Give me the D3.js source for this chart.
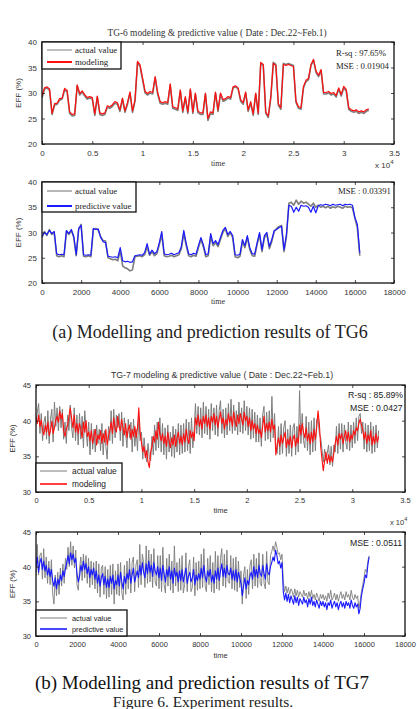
<!DOCTYPE html>
<html><head><meta charset="utf-8">
<script src="https://cdn.jsdelivr.net/npm/d3@7"></script>
<style>
html,body{margin:0;padding:0;background:#fff;}
svg{display:block;}
</style></head>
<body>
<svg id="c" width="417" height="709"></svg>
<script>
// ---------- DATA ----------
// TG6 modelling (time step 250, 0..32500)
const tg6ModelTime = d3.range(0, 32501, 250);
const tg6ModelActual = [29.0,30.8,31.0,30.5,25.8,27.6,27.8,28.6,28.8,30.6,30.2,26.0,25.5,25.6,31.4,29.6,30.2,29.4,28.8,29.0,28.8,25.6,29.2,25.8,25.6,25.8,27.2,27.0,27.4,28.0,27.8,26.4,28.8,26.2,27.8,30.0,26.2,28.4,36.0,35.2,32.6,30.0,29.6,30.0,29.8,33.0,29.8,28.0,27.8,28.0,27.8,31.6,27.0,26.8,26.6,30.4,26.2,29.0,26.0,30.6,26.0,29.8,26.2,25.8,25.8,29.8,24.6,26.0,25.8,30.0,26.4,29.8,28.4,28.6,29.0,28.8,31.0,31.2,30.8,28.4,27.8,30.0,26.4,28.0,25.6,29.8,25.8,35.8,35.4,26.0,25.2,29.0,36.0,35.6,27.6,26.8,35.8,35.6,35.8,35.6,35.4,28.2,27.0,26.8,31.0,32.2,32.6,35.4,36.4,34.0,33.2,34.4,29.8,29.8,30.0,29.6,29.8,29.2,30.8,29.4,31.0,30.4,26.8,26.4,26.2,26.4,26.0,26.2,26.0,26.4,26.6];
const tg6Modeling = [29.4,31.0,31.2,30.8,26.0,27.9,28.0,28.9,29.0,30.9,30.5,26.3,25.8,25.9,31.6,29.9,30.4,29.7,29.1,29.3,29.1,25.9,29.4,26.1,25.9,26.1,27.5,27.3,27.7,28.3,28.1,26.7,29.0,26.5,28.1,30.2,26.5,28.7,36.2,35.5,32.9,30.3,29.9,30.3,30.1,33.2,30.1,28.3,28.1,28.3,28.1,31.8,27.3,27.1,26.9,30.6,26.5,29.3,26.3,30.8,26.3,30.0,26.5,26.1,26.1,30.0,25.0,26.3,26.1,30.2,26.7,30.0,28.7,28.9,29.3,29.1,31.2,31.4,31.0,28.7,28.1,30.2,26.7,28.3,25.9,30.0,26.1,36.0,35.6,26.3,25.5,29.3,35.8,35.4,27.9,27.1,35.6,35.4,35.6,35.4,35.2,28.5,27.3,27.1,31.3,32.5,32.9,35.6,36.6,34.3,33.5,34.6,30.1,30.1,30.3,29.9,30.1,29.5,31.0,29.7,31.3,30.7,27.1,26.7,26.5,26.7,26.3,26.5,26.3,26.7,26.9];

// TG6 prediction (time step 125, 0..16250)
const tg6PredTime = d3.range(0, 16251, 125);
const tg6PredActual = [29.0,30.2,29.4,30.6,29.6,30.0,25.4,25.2,25.4,25.2,30.2,29.6,30.4,29.0,25.4,30.6,31.6,25.3,25.2,25.4,25.2,30.6,30.8,30.5,29.2,28.4,28.3,25.0,24.8,24.6,24.7,24.4,26.4,23.4,23.0,22.8,22.4,22.6,25.2,25.3,25.4,25.2,25.6,27.2,25.5,26.2,25.4,25.8,27.6,29.6,25.4,25.2,25.3,25.5,25.2,25.4,25.6,26.8,29.8,27.4,25.4,25.2,25.5,25.3,27.0,28.6,27.2,25.2,25.4,29.2,27.4,28.0,27.2,28.6,30.0,30.8,29.2,30.0,29.0,25.2,25.0,25.3,28.2,27.0,29.0,26.6,25.4,25.3,27.6,29.6,26.2,29.0,29.6,26.8,28.2,30.2,30.8,31.2,31.4,26.2,29.2,35.8,36.0,35.4,36.4,35.6,36.2,35.8,36.0,35.6,35.2,35.8,35.0,35.4,35.0,35.2,34.9,35.2,34.8,35.1,34.9,35.2,35.0,34.8,35.2,35.0,35.1,34.9,32.8,31.0,25.4];
const tg6Predictive = [29.2,30.0,29.6,30.4,29.8,30.2,25.8,25.6,25.7,25.6,30.4,29.8,30.6,29.2,25.6,30.8,31.4,25.6,25.5,25.6,25.5,30.8,30.6,30.7,29.0,28.2,28.0,25.3,25.2,25.1,25.2,25.0,27.0,24.4,24.2,24.3,24.1,24.2,25.4,25.5,25.6,25.5,26.0,27.8,25.7,26.5,25.8,26.2,28.0,30.2,25.8,25.6,25.7,25.9,25.6,25.8,26.0,27.2,30.4,27.8,25.8,25.6,25.9,25.7,27.4,29.0,27.6,25.6,25.8,29.8,27.8,28.4,27.6,29.0,30.4,31.0,29.6,30.2,29.4,25.6,25.5,25.7,28.6,27.4,29.4,27.0,25.8,25.7,28.0,30.0,26.6,29.4,30.0,27.2,28.6,30.4,30.6,31.0,31.2,26.6,29.6,35.4,35.2,34.0,35.0,34.2,35.4,35.2,35.3,35.0,34.0,35.2,33.9,35.3,35.5,35.4,35.6,35.5,35.3,35.6,35.4,35.5,35.6,35.3,35.6,35.5,35.6,35.4,33.0,31.6,26.0];

// TG7 modelling (time step 125, 0..32500)
const tg7ModelTime = d3.range(0, 32501, 125);
const tg7ModelActual = [
39.4,41.2,42.4,38.2,41.0,37.2,39.8,40.6, 37.4,41.4,36.8,40.2,41.6,37.0,42.6,39.2,
41.8,38.6,42.0,39.0,41.6,37.4,39.8,36.8, 40.8,38.6,42.2,39.0,37.6,41.8,37.2,40.8,
36.6,41.0,37.4,40.6,36.2,41.4,38.6,36.4, 39.8,35.2,39.6,36.0,38.8,35.6,39.4,36.8,
38.8,35.8,39.6,35.2,38.6,36.4,34.6,39.2, 37.2,41.4,36.8,41.6,37.6,40.8,39.0,41.0,
37.2,41.2,36.4,40.4,38.2,36.2,40.2,37.6, 39.8,35.6,40.2,36.4,38.8,35.8,40.6,37.2,
38.4,34.6,37.6,35.6,34.2,36.8,34.8,34.4, 37.8,35.2,39.4,35.8,39.8,36.2,40.4,35.6,
39.6,35.2,39.0,34.6,39.4,35.6,38.4,35.0, 39.2,34.8,38.8,35.6,39.6,35.2,39.4,35.4,
39.6,35.6,40.2,35.8,39.8,35.4,40.4,36.2, 38.6,42.4,38.2,42.0,38.0,41.8,37.6,42.6,
38.2,42.0,38.0,41.6,37.4,42.4,38.6,41.8, 38.0,42.2,37.8,41.4,42.8,38.2,41.6,37.6,
41.8,38.0,42.4,38.6,43.0,38.2,42.2,38.6, 41.4,38.0,42.6,38.4,41.8,38.2,42.8,38.6,
42.0,38.0,41.8,37.4,41.6,37.6,41.2,37.0, 40.8,37.0,40.4,36.4,40.8,42.0,37.2,41.2,
37.4,41.4,37.0,43.4,37.6,41.0,36.2,35.4, 39.2,35.2,39.6,35.4,39.0,40.0,35.0,38.8,
35.4,39.4,35.0,39.0,39.6,35.2,39.2,35.6, 44.2,36.8,41.0,37.2,36.2,40.6,35.8,39.8,
35.2,40.0,35.6,40.4,35.8,40.2,40.4,38.2, 37.6,36.0,34.2,36.0,34.4,35.4,36.6,33.8,
36.4,33.6,36.6,35.6,39.2,35.4,39.6,36.0, 39.6,35.6,39.4,37.0,36.0,39.8,35.8,39.4,
36.2,39.8,36.8,40.4,37.2,40.6,41.0,38.2, 39.8,36.0,39.6,35.6,39.4,35.8,39.8,35.4,
39.2,35.6,39.4,36.2,38.6];
const tg7Modeling = [
40.5,39.6,40.8,39.2,40.1,38.6,38.0,39.4, 38.4,39.8,37.9,38.6,39.9,38.2,39.0,40.1,
40.6,39.8,41.4,40.2,41.0,38.6,37.8,38.8, 39.4,40.6,41.8,40.4,39.0,40.8,38.4,39.6,
38.2,39.6,38.8,37.6,39.8,38.4,40.0,37.8, 38.4,37.2,38.6,36.8,37.8,38.8,36.6,38.0,
37.4,38.6,36.8,38.2,37.0,38.8,36.6,37.8, 38.6,39.8,38.2,40.4,39.0,38.4,40.6,39.2,
38.6,40.2,39.0,38.0,39.6,37.6,38.8,39.4, 37.4,38.8,37.8,39.2,37.6,39.0,41.8,38.4,
37.0,35.6,36.4,34.8,35.8,34.2,33.4,35.6, 36.4,37.8,37.0,38.6,37.4,39.8,38.0,37.2,
38.2,36.8,37.8,36.4,38.4,37.2,36.2,37.6, 36.6,38.0,36.4,37.6,38.4,36.8,37.8,36.6,
38.2,37.0,38.8,37.4,36.8,38.6,37.6,38.4, 37.2,40.4,39.4,40.8,39.2,40.2,38.8,40.6,
39.6,40.8,39.2,40.4,38.8,40.6,39.8,41.0, 39.4,40.6,39.0,40.2,41.2,39.6,40.4,38.8,
40.2,39.4,41.0,39.8,40.6,39.2,41.2,40.0, 39.2,40.8,39.6,41.0,40.2,39.4,41.2,40.0,
40.6,39.2,40.4,38.6,40.0,38.8,39.6,38.2, 39.4,38.2,38.8,37.6,39.2,40.6,38.4,39.6,
38.6,39.8,38.4,40.2,38.8,39.4,35.2,36.6, 37.6,36.4,38.0,36.8,37.6,38.4,36.2,37.4,
36.6,37.8,36.2,37.4,38.0,36.4,37.6,36.8, 39.4,38.0,39.6,38.4,37.6,39.0,37.2,38.2,
36.8,38.4,37.0,38.8,37.4,39.0,41.4,39.6, 36.4,34.6,33.0,34.4,35.6,34.0,35.2,34.2,
35.0,34.2,35.4,36.8,37.8,36.6,38.2,37.4, 38.2,36.8,37.8,38.6,37.2,38.4,37.0,38.0,
37.4,38.6,38.0,39.0,38.6,39.6,40.2,39.4, 38.6,37.4,38.4,36.8,38.0,37.2,38.6,36.6,
37.8,36.8,38.2,37.0,37.8];

// TG7 prediction (time step 62.5, 0..16250)
const tg7PredTime = d3.range(0, 16251, 62.5);
const tg7PredActual = [
38.6,43.2,38.8,41.6,42.0,38.2,42.6,38.4, 41.4,37.6,40.8,37.4,41.0,36.2,34.6,38.8,
35.8,39.2,36.0,39.8,37.2,40.4,37.6,41.2, 39.6,42.8,40.0,43.6,40.2,43.0,39.8,42.4,
37.4,36.6,39.8,41.4,38.0,41.8,38.4,41.6, 37.6,41.2,37.0,40.8,37.4,40.6,36.8,40.8,
36.2,40.4,35.6,39.8,40.2,36.0,40.0,35.4, 39.6,35.6,40.2,36.0,40.4,34.6,39.4,36.0,
40.4,35.8,40.6,36.2,35.2,40.2,36.0,40.8, 36.8,41.2,36.2,40.6,41.4,36.4,40.2,41.0,
37.0,43.2,37.4,41.8,40.6,37.0,43.0,37.6, 42.4,37.8,41.8,37.0,42.6,37.8,37.2,41.6,
36.8,41.6,36.4,42.8,37.4,36.2,41.2,37.2, 41.8,36.6,40.8,36.2,43.0,37.2,40.6,36.4,
41.2,36.6,41.6,36.2,37.4,42.0,36.4,40.0, 41.0,36.4,37.0,41.4,35.8,40.6,36.6,40.8,
36.8,41.8,37.0,42.6,37.2,36.4,41.2,37.4, 41.6,36.4,40.6,36.2,42.2,36.8,41.6,36.6,
41.2,42.6,37.2,41.8,37.0,42.4,37.8,37.6, 41.6,36.8,41.2,36.6,41.4,36.4,40.8,37.0,
39.4,34.6,38.8,40.0,35.4,39.6,36.0,40.2, 41.0,36.8,41.8,37.2,41.2,37.0,42.0,37.6,
37.2,41.8,37.6,36.8,42.2,37.8,37.4,41.6, 42.2,43.0,42.2,43.6,42.8,41.8,42.0,41.0,
41.8,38.0,36.4,37.2,36.2,37.0,36.0,36.8, 36.4,35.6,36.8,35.8,36.6,35.6,36.4,36.0,
35.6,36.6,35.8,36.2,35.4,36.4,35.6,36.6, 35.4,36.0,35.2,36.2,35.6,35.0,36.0,35.4,
36.0,35.2,35.8,35.0,36.2,35.4,36.6,35.2, 35.6,36.2,35.2,36.0,35.0,35.8,36.4,35.4,
36.0,35.2,36.4,35.6,36.0,35.2,36.6,35.6, 35.2,36.0,35.4,35.8,34.0,35.0,36.4,37.4,
38.4,39.6,39.2,40.8,41.6];
const tg7Predictive = [
40.0,41.4,39.2,40.6,41.2,39.6,40.8,39.4, 40.2,38.8,39.8,38.6,39.6,38.0,37.2,38.4,
36.8,38.2,37.4,38.8,38.0,39.4,38.6,39.8, 40.6,41.6,40.4,42.0,41.0,41.8,40.6,41.2,
39.0,37.8,38.6,40.2,39.4,40.8,39.6,40.4, 39.0,40.0,38.4,39.6,38.8,39.8,38.2,39.4,
37.6,38.8,37.2,38.4,39.0,37.4,38.6,37.0, 38.2,37.0,38.6,37.6,38.8,36.8,38.0,37.4,
38.8,37.2,39.2,37.8,36.8,38.6,37.6,39.0, 38.2,39.6,37.6,38.8,39.8,37.8,38.6,39.4,
38.4,40.2,38.8,40.6,39.2,38.4,40.4,39.0, 40.8,39.2,40.2,38.6,40.6,39.4,38.8,40.0,
38.4,39.8,38.0,40.2,39.0,37.8,39.6,38.6, 40.0,38.2,39.4,37.6,39.8,38.6,39.2,37.8,
39.4,38.0,39.6,37.8,38.8,39.8,37.6,38.6, 39.2,37.8,38.4,39.6,37.4,38.8,38.0,39.0,
38.2,39.8,38.4,40.2,38.6,37.8,39.4,38.6, 39.6,37.8,38.8,37.6,39.4,38.2,39.8,38.0,
39.4,40.4,38.6,39.8,38.4,40.2,39.0,38.8, 39.8,38.2,39.4,38.0,39.6,37.8,39.2,38.4,
37.6,35.8,37.2,38.4,36.8,38.0,37.4,38.6, 39.2,38.2,40.0,38.6,39.6,38.4,40.2,39.0,
38.6,40.2,39.0,38.2,40.4,39.2,38.8,40.0, 40.6,41.4,40.8,42.4,41.6,40.4,40.8,39.8,
40.6,36.4,35.2,36.2,35.0,36.0,34.8,35.8, 35.2,34.6,35.8,34.8,35.6,34.4,35.4,35.0,
34.6,35.6,34.8,35.2,34.2,35.4,34.6,35.6, 34.4,35.0,34.2,35.2,34.6,34.0,35.0,34.4,
35.0,34.2,34.8,33.8,34.8,34.4,35.2,34.0, 34.6,35.0,34.2,34.8,33.8,34.6,35.0,34.2,
34.8,34.0,35.0,34.4,34.8,34.0,35.2,34.4, 34.0,34.8,34.2,34.6,33.2,34.0,35.8,36.8,
37.6,38.8,38.4,40.2,41.4];

// tick labels
const tickLabelsX1e4 = ["0","0.5","1","1.5","2","2.5","3","3.5"];
const tickLabelsX18k = ["0","2000","4000","6000","8000","10000","12000","14000","16000","18000"];
const tickLabelsY1 = ["20","25","30","35","40"];
const tickLabelsY2 = ["30","35","40","45"];

// ---------- DRAW ----------
const svg = d3.select("#c");
const SERIF = "'Liberation Serif','Times New Roman',serif";
const SANS = "'Liberation Sans',Arial,Helvetica,sans-serif";
const GRAY = "#7d7d7d", RED = "#ff1010", BLUE = "#1a1aff";
let clipId = 0;

function panel(o) {
  const g = svg.append("g");
  const x = d3.scaleLinear().domain(o.xDomain).range([o.left, o.right]);
  const y = d3.scaleLinear().domain(o.yDomain).range([o.bottom, o.top]);
  const xt = d3.range(o.xDomain[0], o.xDomain[1] + 1, o.xStep);
  const yt = o.yLabels.map(Number);

  const id = "clip" + (clipId++);
  g.append("clipPath").attr("id", id).append("rect")
    .attr("x", o.left).attr("y", o.top).attr("width", o.right - o.left).attr("height", o.bottom - o.top);

  const line = d3.line().x(d => x(d[0])).y(d => y(d[1]));
  const plot = g.append("g").attr("clip-path", `url(#${id})`);
  o.series.forEach(s => {
    plot.append("path")
      .datum(s.t.map((t, i) => [t, s.v[i]]))
      .attr("d", line).attr("fill", "none")
      .attr("stroke", s.color).attr("stroke-width", s.width)
      .attr("stroke-linejoin", "round");
  });

  const tickLen = 3;
  const bx = g.append("g").attr("transform", `translate(0,${o.bottom})`)
    .call(d3.axisBottom(x).tickValues(xt).tickSize(-tickLen).tickPadding(tickLen + 3)
      .tickFormat((d, i) => o.xLabels[i]));
  const tx = g.append("g").attr("transform", `translate(0,${o.top})`)
    .call(d3.axisTop(x).tickValues(xt).tickSize(-tickLen).tickFormat(""));
  const ly = g.append("g").attr("transform", `translate(${o.left},0)`)
    .call(d3.axisLeft(y).tickValues(yt).tickSize(-tickLen).tickPadding(tickLen + 2)
      .tickFormat((d, i) => o.yLabels[i]));
  const ry = g.append("g").attr("transform", `translate(${o.right},0)`)
    .call(d3.axisRight(y).tickValues(yt).tickSize(-tickLen).tickFormat(""));
  [bx, tx, ly, ry].forEach(a => {
    a.select(".domain").remove();
    a.selectAll(".tick line").attr("stroke", "#222").attr("stroke-width", 0.8);
    a.selectAll("text").attr("font-family", SANS).attr("font-size", o.tickFont).attr("fill", "#333");
  });
  g.append("rect").attr("x", o.left).attr("y", o.top)
    .attr("width", o.right - o.left).attr("height", o.bottom - o.top)
    .attr("fill", "none").attr("stroke", "#111").attr("stroke-width", 1.3);

  g.append("text").attr("transform", `translate(${o.yLabelX},${(o.top + o.bottom) / 2}) rotate(-90)`)
    .attr("text-anchor", "middle").attr("font-family", SANS).attr("font-size", o.tickFont)
    .attr("fill", "#333").text("EFF (%)");
  g.append("text").attr("x", (o.left + o.right) / 2).attr("y", o.xLabelY)
    .attr("text-anchor", "middle").attr("font-family", o.xLabelFont).attr("font-size", o.tickFont)
    .attr("fill", "#333").text("time");
  if (o.exp) {
    const t = g.append("text").attr("x", o.exp[0]).attr("y", o.exp[1])
      .attr("font-family", SANS).attr("font-size", o.tickFont).attr("fill", "#333");
    t.append("tspan").text("x 10");
    t.append("tspan").attr("dy", -4).attr("font-size", o.tickFont - 2).text("4");
  }
  if (o.title) {
    g.append("text").attr("x", o.title.x).attr("y", o.title.y).attr("text-anchor", "middle")
      .attr("font-family", o.title.font).attr("font-size", o.title.size).attr("fill", "#333")
      .text(o.title.text);
  }
  o.notes.forEach(n => {
    g.append("text").attr("x", n.x).attr("y", n.y).attr("font-family", n.font)
      .attr("font-size", n.size).attr("fill", "#222").text(n.text);
  });
  const L = o.legend;
  g.append("rect").attr("x", L.x).attr("y", L.y).attr("width", L.w).attr("height", L.h)
    .attr("fill", "#fff").attr("stroke", "#111").attr("stroke-width", 1.3);
  L.items.forEach((it, i) => {
    const yy = L.y + L.rowY[i];
    g.append("line").attr("x1", L.x + L.lx1).attr("x2", L.x + L.lx2).attr("y1", yy).attr("y2", yy)
      .attr("stroke", it.color).attr("stroke-width", it.width);
    g.append("text").attr("x", L.x + L.tx).attr("y", yy).attr("dy", "0.35em")
      .attr("font-family", L.font).attr("font-size", L.size).attr("fill", "#222").text(it.label);
  });
}

// Panel 1: TG6 modelling
panel({
  left: 42, right: 394, top: 42, bottom: 144,
  xDomain: [0, 35000], xStep: 5000, xLabels: tickLabelsX1e4,
  yDomain: [20, 40], yLabels: tickLabelsY1, tickFont: 8,
  yLabelX: 21, xLabelY: 166, xLabelFont: SERIF, exp: [375, 168],
  title: { x: 217, y: 36, text: "TG-6 modeling & predictive value ( Date : Dec.22~Feb.1)", font: SERIF, size: 9.4 },
  series: [
    { t: tg6ModelTime, v: tg6ModelActual, color: GRAY, width: 1.6 },
    { t: tg6ModelTime, v: tg6Modeling, color: RED, width: 1.2 }
  ],
  notes: [
    { x: 336, y: 56, text: "R-sq : 97.65%", font: SERIF, size: 8.7 },
    { x: 336, y: 69, text: "MSE : 0.01904", font: SERIF, size: 8.7 }
  ],
  legend: { x: 42, y: 42, w: 79, h: 27, lx1: 5, lx2: 30, tx: 33, rowY: [8, 20], font: SERIF, size: 8.8,
    items: [{ label: "actual value", color: GRAY, width: 1 }, { label: "modeling", color: RED, width: 2 }] }
});

// Panel 2: TG6 prediction
panel({
  left: 42, right: 394, top: 182, bottom: 283,
  xDomain: [0, 18000], xStep: 2000, xLabels: tickLabelsX18k,
  yDomain: [20, 40], yLabels: tickLabelsY1, tickFont: 8,
  yLabelX: 21, xLabelY: 304, xLabelFont: SERIF, exp: null, title: null,
  series: [
    { t: tg6PredTime, v: tg6PredActual, color: GRAY, width: 1.6 },
    { t: tg6PredTime, v: tg6Predictive, color: BLUE, width: 1.2 }
  ],
  notes: [{ x: 338, y: 194, text: "MSE : 0.03391", font: SERIF, size: 8.7 }],
  legend: { x: 42, y: 182, w: 94, h: 30, lx1: 5, lx2: 30, tx: 33, rowY: [9, 24], font: SERIF, size: 8.8,
    items: [{ label: "actual value", color: "#999", width: 1.4 }, { label: "predictive value", color: BLUE, width: 2 }] }
});

// Panel 3: TG7 modelling
panel({
  left: 36, right: 405, top: 385, bottom: 492,
  xDomain: [0, 35000], xStep: 5000, xLabels: tickLabelsX1e4,
  yDomain: [30, 45], yLabels: tickLabelsY2, tickFont: 7.5,
  yLabelX: 15, xLabelY: 513, xLabelFont: SANS, exp: [390, 525],
  title: { x: 222, y: 378, text: "TG-7 modeling & predictive value ( Date : Dec.22~Feb.1)", font: SANS, size: 8.8 },
  series: [
    { t: tg7ModelTime, v: tg7ModelActual, color: GRAY, width: 1.0 },
    { t: tg7ModelTime, v: tg7Modeling, color: RED, width: 1.1 }
  ],
  notes: [
    { x: 348, y: 398, text: "R-sq : 85.89%", font: SANS, size: 8.7 },
    { x: 350, y: 411, text: "MSE : 0.0427", font: SANS, size: 8.7 }
  ],
  legend: { x: 36, y: 463, w: 86, h: 29, lx1: 4, lx2: 31, tx: 36, rowY: [8, 21], font: SANS, size: 8.4,
    items: [{ label: "actual value", color: GRAY, width: 1 }, { label: "modeling", color: RED, width: 1.6 }] }
});

// Panel 4: TG7 prediction
panel({
  left: 36, right: 405, top: 532, bottom: 636,
  xDomain: [0, 18000], xStep: 2000, xLabels: tickLabelsX18k,
  yDomain: [30, 45], yLabels: tickLabelsY2, tickFont: 7.5,
  yLabelX: 15, xLabelY: 658, xLabelFont: SANS, exp: null, title: null,
  series: [
    { t: tg7PredTime, v: tg7PredActual, color: GRAY, width: 0.9 },
    { t: tg7PredTime, v: tg7Predictive, color: BLUE, width: 1.1 }
  ],
  notes: [{ x: 350, y: 546, text: "MSE : 0.0511", font: SANS, size: 8.7 }],
  legend: { x: 36, y: 610, w: 91, h: 26, lx1: 4, lx2: 31, tx: 36, rowY: [8, 19], font: SANS, size: 7.4,
    items: [{ label: "actual value", color: GRAY, width: 1 }, { label: "predictive value", color: BLUE, width: 1.6 }] }
});

// captions
svg.append("text").attr("x", 210).attr("y", 338).attr("text-anchor", "middle")
  .attr("font-family", SERIF).attr("font-size", 18).attr("fill", "#222")
  .text("(a) Modelling and prediction results of TG6");
svg.append("text").attr("x", 202).attr("y", 689).attr("text-anchor", "middle")
  .attr("font-family", SERIF).attr("font-size", 19).attr("fill", "#111")
  .text("(b) Modelling and prediction results of TG7");
svg.append("text").attr("x", 203).attr("y", 707).attr("text-anchor", "middle")
  .attr("font-family", SERIF).attr("font-size", 15.5).attr("fill", "#222")
  .text("Figure 6. Experiment results.");
</script>
</body></html>
